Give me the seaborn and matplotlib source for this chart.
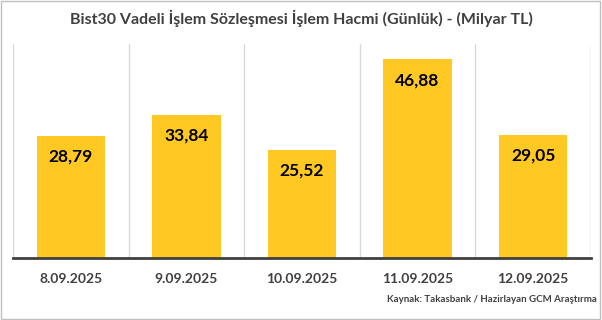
import matplotlib
matplotlib.use("Agg")
import matplotlib.pyplot as plt
import seaborn as sns
import pandas as pd
from matplotlib.patches import Rectangle

dates = ["8.09.2025", "9.09.2025", "10.09.2025", "11.09.2025", "12.09.2025"]
values = [28.79, 33.84, 25.52, 46.88, 29.05]
labels = ["28,79", "33,84", "25,52", "46,88", "29,05"]

title = "Bist30 Vadeli İşlem Sözleşmesi İşlem Hacmi (Günlük) - (Milyar TL)"
source = "Kaynak: Takasbank / Hazirlayan GCM Araştırma"

sns.set_theme(style="white")
plt.rcParams["font.family"] = ["Lato", "DejaVu Sans"]

df = pd.DataFrame({"date": dates, "value": values})

fig = plt.figure(figsize=(6.02, 3.2), dpi=100)
ax = fig.add_axes([13/602, 1 - 258/320, (591-13)/602, (258-44)/320])

sns.barplot(data=df, x="date", y="value", color="#FFC823", width=0.59,
            saturation=1, ax=ax, edgecolor="none")

ax.set_ylim(0, 50.5)
ax.set_xlim(-0.5, len(dates) - 0.5)
ax.set_yticks([])
ax.set_xlabel("")
ax.set_ylabel("")

# vertical gridlines at category boundaries
for b in [i - 0.5 for i in range(len(dates) + 1)]:
    ax.axvline(b, color="#d9d9d9", lw=1, zorder=0)

for s in ["top", "right", "left"]:
    ax.spines[s].set_visible(False)
ax.spines["bottom"].set_color("#404040")
ax.spines["bottom"].set_linewidth(2)

ax.set_xticks(range(len(dates)))
ax.set_xticklabels(dates, fontsize=10, fontweight="bold", color="#404040")
ax.tick_params(axis="x", length=0, pad=11)

# tick marks at boundaries
ax.set_xticks([i - 0.5 for i in range(len(dates) + 1)], minor=True)
ax.tick_params(axis="x", which="minor", length=5, width=1.5, color="#404040", direction="out")

for i, (v, l) in enumerate(zip(values, labels)):
    ax.annotate(l, xy=(i, v), xytext=(0, -15), textcoords="offset points",
                ha="center", va="center", fontsize=12.5, fontweight="bold", color="black")

fig.text(0.5, 1 - 18/320, title, ha="center", va="center", fontsize=11.5,
         fontweight="bold", color="#404040")
fig.text(597/602, 1 - 300/320, source, ha="right", va="center", fontsize=7,
         fontweight="bold", color="#404040")

fig.patches.append(Rectangle((0.002, 0.003), 0.995, 0.994, transform=fig.transFigure,
                             fill=False, edgecolor="#bfbfbf", lw=1))

fig.savefig("out.png", dpi=100)
